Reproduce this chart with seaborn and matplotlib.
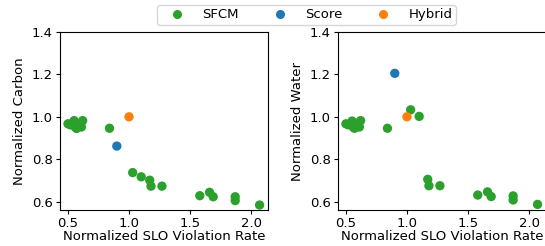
import pandas as pd
import matplotlib
matplotlib.use("Agg")
import matplotlib.pyplot as plt
import seaborn as sns

# data
sfcm_slo = [0.50, 0.52, 0.55, 0.56, 0.57, 0.60, 0.61, 0.62,
            0.84, 1.03, 1.10, 1.17, 1.18, 1.27, 1.58, 1.66, 1.69, 1.87, 1.87, 2.07]
sfcm_carbon = [0.967, 0.962, 0.982, 0.951, 0.945, 0.960, 0.952, 0.982,
               0.946, 0.737, 0.717, 0.701, 0.673, 0.673, 0.628, 0.644, 0.623, 0.623, 0.605, 0.584]
sfcm_water = [0.967, 0.962, 0.980, 0.951, 0.946, 0.960, 0.952, 0.982,
              0.946, 1.033, 1.002, 0.705, 0.675, 0.675, 0.631, 0.646, 0.624, 0.627, 0.608, 0.587]

score_slo = [0.90]
score_carbon = [0.862]
score_water = [1.205]

hybrid_slo = [1.00]
hybrid_carbon = [1.00]
hybrid_water = [1.00]

methods = ["SFCM", "Score", "Hybrid"]
colors = {"SFCM": "#2ca02c", "Score": "#1f77b4", "Hybrid": "#ff7f0e"}

df = pd.DataFrame({
    "slo": sfcm_slo + score_slo + hybrid_slo,
    "carbon": sfcm_carbon + score_carbon + hybrid_carbon,
    "water": sfcm_water + score_water + hybrid_water,
    "method": ["SFCM"] * len(sfcm_slo) + ["Score"] * len(score_slo) + ["Hybrid"] * len(hybrid_slo),
})

fig = plt.figure(figsize=(5.45, 2.46), dpi=100)
ax1 = fig.add_axes([0.110, 0.145, 0.382, 0.725])
ax2 = fig.add_axes([0.620, 0.145, 0.382, 0.725])

for ax, col, label in [(ax1, "carbon", "Normalized Carbon"), (ax2, "water", "Normalized Water")]:
    sns.scatterplot(data=df, x="slo", y=col, hue="method", hue_order=methods,
                    palette=colors, s=45, edgecolor="none", ax=ax, legend=False)
    ax.set_xlim(0.434, 2.14)
    ax.set_ylim(0.559, 1.4)
    ax.set_xticks([0.5, 1.0, 1.5, 2.0])
    ax.set_yticks([0.6, 0.8, 1.0, 1.2, 1.4])
    ax.tick_params(labelsize=9.5, length=3, pad=2)
    ax.set_xlabel("Normalized SLO Violation Rate", fontsize=9.5, labelpad=0)
    ax.set_ylabel(label, fontsize=9.5)

handles = [plt.Line2D([], [], marker="o", linestyle="", color=colors[m], markersize=5.5)
           for m in methods]
fig.legend(handles, methods, loc="upper center", bbox_to_anchor=(0.5626, 0.98), ncol=3,
           fontsize=9.5, borderaxespad=0, borderpad=0.25, handlelength=2.5,
           handletextpad=0.66, columnspacing=1.85)

fig.savefig("out.png", dpi=100)
